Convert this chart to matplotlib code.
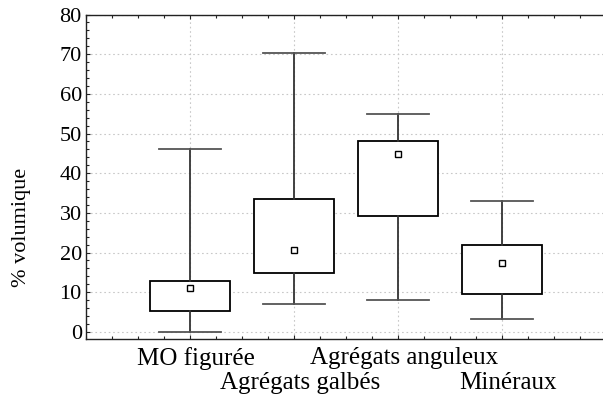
import matplotlib
matplotlib.use("Agg")
import matplotlib.pyplot as plt
from matplotlib.ticker import MultipleLocator

# données (% volumique)
categories = ["MO figurée", "Agrégats galbés", "Agrégats anguleux", "Minéraux"]
centre = [11.0, 20.6, 44.9, 17.4]     # point central (carré)
box_lo = [5.2, 14.8, 29.2, 9.6]
box_hi = [12.9, 33.5, 48.0, 21.8]
whis_lo = [0.0, 7.0, 8.0, 3.2]
whis_hi = [46.0, 70.4, 55.0, 32.9]
yticks = [0, 10, 20, 30, 40, 50, 60, 70, 80]

plt.rcParams['font.family'] = ['Liberation Serif', 'DejaVu Serif']

fig = plt.figure(figsize=(6.03, 4.00), dpi=100)
ax = fig.add_axes([86 / 603, 1 - 339 / 400, 520 / 603, 324.5 / 400])

positions = list(range(1, len(categories) + 1))
stats = []
for i in range(len(categories)):
    stats.append({'med': centre[i], 'q1': box_lo[i], 'q3': box_hi[i],
                  'whislo': whis_lo[i], 'whishi': whis_hi[i], 'fliers': []})

ax.bxp(stats, positions=positions, widths=0.76, patch_artist=True,
       showfliers=False,
       boxprops=dict(facecolor='white', edgecolor='black', linewidth=1.3),
       whiskerprops=dict(color='#333333', linewidth=1.3),
       capprops=dict(color='#555555', linewidth=1.3),
       medianprops=dict(visible=False),
       capwidths=0.6, zorder=3)
ax.plot(positions, centre, 's', ms=5, mfc='white', mec='black', mew=1.0, zorder=4)

ax.set_xlim(0, 5)
ax.set_ylim(-1.8, 80)
ax.set_yticks(yticks)
ax.set_yticklabels([str(v) for v in yticks], fontsize=16)
ax.yaxis.set_minor_locator(MultipleLocator(2))
ax.set_xticks(positions)
ax.set_xticklabels([])
ax.xaxis.set_minor_locator(MultipleLocator(0.25))
ax.tick_params(axis='both', which='both', direction='in', top=True, right=False, color='#222222')
ax.tick_params(axis='both', which='major', length=3, width=0.8)
ax.tick_params(axis='both', which='minor', length=2, width=0.8)
ax.tick_params(axis='y', which='major', pad=3)

ax.grid(True, which='major', color='#c8c8c8', linestyle=(0, (1.5, 2.5)), linewidth=0.8)
ax.set_axisbelow(True)
for s in ['left', 'bottom', 'top']:
    ax.spines[s].set_linewidth(1.0)
    ax.spines[s].set_color('#222222')
ax.spines['right'].set_visible(False)

# étiquettes en quinconce sous l'axe
rows = [-0.0586, -0.1356]
for i, name in enumerate(categories):
    ax.text(positions[i] + 0.06, rows[i % 2], name, transform=ax.get_xaxis_transform(),
            ha='center', va='center', fontsize=18, clip_on=False)

fig.text(22 / 603, 1 - 227 / 400, "% volumique", rotation=90, ha='center', va='center',
         fontsize=16)

fig.savefig("out.png", dpi=100)
